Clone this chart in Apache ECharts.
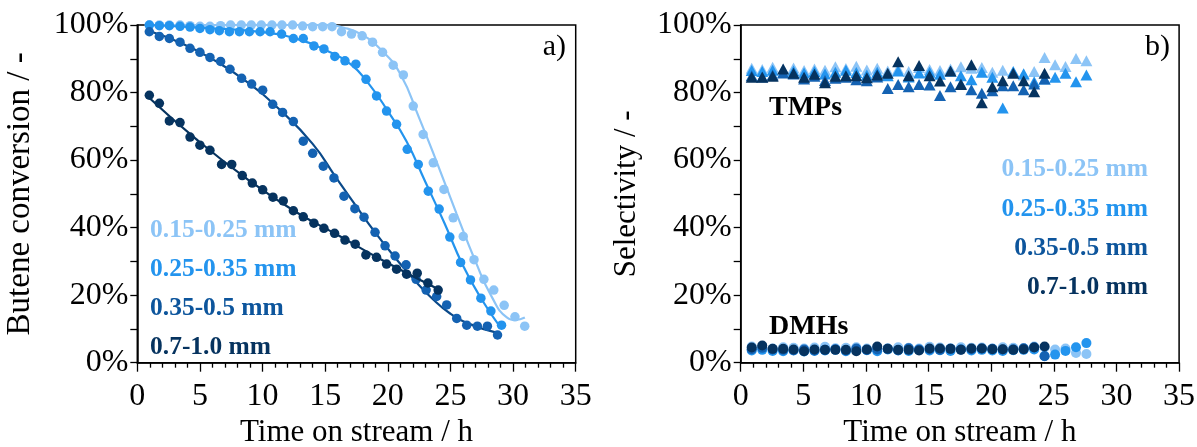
<!DOCTYPE html>
<html>
<head>
<meta charset="utf-8">
<script src="https://cdn.jsdelivr.net/npm/echarts@6/dist/echarts.min.js"></script>
<style>
  html, body { margin: 0; padding: 0; background: #fff; }
  #chart { width: 1197px; height: 447px; }
</style>
</head>
<body>
<div id="chart"></div>
<script>
// Particle size fractions
const sizeLabels = ['0.15-0.25 mm', '0.25-0.35 mm', '0.35-0.5 mm', '0.7-1.0 mm'];

// Butene conversion (%) vs time on stream (h), measured points
const conv015 = [
  [0.96,100],[1.76,100],[2.56,100],[3.41,100],[4.21,99.8],[5.0,99.6],[5.8,99.6],[6.65,99.8],
  [7.45,100],[8.3,100],[9.1,100],[9.9,100],[10.75,100],[11.55,100],[12.4,100],[13.2,99.7],
  [14.0,99.5],[14.8,99.5],[15.55,99.5],[16.3,98.0],[17.1,97.3],[17.95,96.8],[18.78,94.9],
  [19.58,91.9],[20.43,88.1],[21.24,85.2],[22.03,76.0],[22.82,67.6],[23.63,59.2],[24.48,51.3],
  [25.22,42.9],[26.02,37.4],[26.88,30.5],[27.67,24.7],[28.46,21.5],[29.29,17.0],[30.15,13.6],[30.93,10.8]
];
const conv025 = [
  [0.96,100],[1.76,99.8],[2.56,99.8],[3.41,99.6],[4.21,99.4],[5.0,99.0],[5.8,98.6],[6.55,98.3],
  [7.35,98.0],[8.15,98.0],[8.95,98.0],[9.8,98.0],[10.6,98.0],[11.52,97.3],[12.46,96.0],[13.25,96.0],
  [14.1,93.8],[14.9,92.9],[15.77,90.7],[16.58,89.4],[17.45,88.4],[18.26,83.9],[19.1,79.0],[19.9,74.5],
  [20.7,70.6],[21.55,63.2],[22.43,58.7],[23.23,50.8],[24.1,45.5],[24.95,37.2],[25.81,29.7],[26.6,24.5],
  [27.43,19.1],[28.23,15.3],[29.08,11.1]
];
const conv035 = [
  [0.96,98.0],[1.76,96.6],[2.56,96.0],[3.41,94.9],[4.21,93.1],[5.0,91.9],[5.8,90.4],[6.65,89.2],
  [7.4,86.9],[8.33,84.2],[9.13,82.5],[10.01,80.7],[10.81,76.5],[11.6,74.1],[12.46,71.4],[13.25,65.6],
  [14.0,62.0],[14.85,58.2],[15.7,54.7],[16.5,49.3],[17.37,45.6],[18.1,43.1],[18.98,38.6],[19.78,34.6],
  [20.58,31.6],[21.46,29.0],[22.26,24.7],[23.06,21.5],[23.9,19.6],[24.7,17.1],[25.5,13.1],[26.3,11.1],
  [27.15,10.8],[27.95,10.8],[28.76,8.2]
];
const conv07 = [
  [0.96,79.2],[1.76,76.8],[2.56,71.6],[3.41,71.1],[4.21,66.8],[5.0,64.4],[5.8,62.9],[6.73,58.7],
  [7.54,58.7],[8.38,55.4],[9.18,53.2],[10.01,51.2],[10.83,49.0],[11.65,47.9],[12.46,45.0],[13.25,43.2],
  [14.1,41.3],[14.9,39.8],[15.75,38.3],[16.58,36.3],[17.4,35.1],[18.25,31.9],[19.1,31.2],[19.9,29.2],
  [20.7,27.7],[21.5,26.2],[22.35,26.5],[23.2,23.6],[24.02,21.5]
];

// Fitted conversion curves (knots along each fit)
const fit015 = [[0.96,100],[15,100],[16.5,99.2],[18,97],[19.5,92.5],[21,85.5],[22.5,72.5],[24,58.5],
  [25.5,44],[27,30],[28.3,19.5],[29.5,13.4],[30.2,12.7],[30.94,13.4]];
const fit025 = [[0.9,100],[5,99.2],[10,97.9],[13,95.6],[15,92.6],[17,88.5],[18.5,82.5],[20,74.5],
  [21.5,65.5],[23,53.5],[24.5,41.5],[26,28.8],[27.5,18.7],[28.95,10.7]];
const fit035 = [[0.9,98.3],[3.4,94.8],[6,89.9],[8.7,83.3],[11.4,74.8],[14,64.8],[15.8,55.2],[17.5,46.2],
  [19,38.5],[20.5,31.5],[22,25],[23.6,18.8],[25,14.5],[26.5,11.5],[28.68,8.9]];
const fit07 = [[0.9,78.6],[4.7,66.2],[8.7,54.6],[12.5,45],[16,37.8],[19.5,30.5],[24.16,21.5]];

// Selectivity sampling times (h)
const selTime = [0.88,1.72,2.55,3.39,4.22,5.06,5.89,6.73,7.56,8.40,9.23,10.07,10.90,11.74,12.57,13.41,
  14.24,15.08,15.91,16.75,17.58,18.42,19.25,20.09,20.92,21.76,22.59,23.43,24.26,25.10,25.93,26.77,27.60];

// TMP selectivity (%)
const tmp015 = [87.2,86.8,87.5,86.9,87.3,86.5,87.0,86.6,87.6,87.1,87.8,86.7,87.2,86.4,87.0,86.2,87.4,86.8,
  86.5,87.0,87.6,87.2,87.4,86.0,86.6,86.0,85.2,86.2,90.4,88.2,87.7,90.1,89.4];
const tmp025 = [86.5,86.2,86.6,86.0,86.4,85.8,86.2,85.5,86.0,86.6,85.9,85.2,86.0,85.0,86.4,84.6,85.8,86.0,
  85.4,86.3,85.0,83.8,86.0,84.5,75.4,86.2,85.6,83.2,84.0,84.5,85.7,83.2,85.2];
const tmp035 = [85.0,84.6,85.2,85.8,85.5,84.0,84.8,83.6,84.2,84.5,83.8,83.5,84.6,81.2,82.4,81.7,82.4,82.2,
  79.1,81.7,82.5,80.8,79.8,80.5,82.0,82.0,80.8,82.5,84.0];
const tmp07 = [84.5,84.5,84.8,87.0,85.7,84.5,85.4,82.9,84.8,85.0,85.0,84.4,85.2,85.7,89.1,85.0,88.0,85.0,
  83.4,86.4,82.4,88.2,77.0,81.7,83.5,85.7,83.5,80.2,85.7];

// DMH selectivity (%)
const dmh015 = [4.8,4.5,4.2,4.6,4.4,4.2,4.5,4.7,4.3,4.4,4.6,4.2,4.5,4.3,4.6,4.4,4.2,4.7,4.5,4.3,4.6,4.4,
  4.5,4.2,4.6,4.4,4.3,4.8,4.5,3.9,4.2,2.9,2.6];
const dmh025 = [3.6,3.8,3.5,3.4,3.6,3.3,3.5,3.6,3.8,3.4,3.6,3.7,3.4,3.9,3.6,3.5,3.8,3.6,3.7,3.5,3.9,3.6,
  3.8,3.6,3.5,3.7,3.8,3.9,2.0,2.4,3.5,4.6,5.8];
const dmh035 = [4.0,4.4,3.9,3.8,3.7,3.9,3.6,3.8,4.0,3.6,4.2,3.8,3.9,4.1,3.7,4.3,3.9,4.0,3.8,4.1,3.9,4.0,
  4.2,4.1,3.9,4.0,4.3,4.6,1.9];
const dmh07 = [4.5,5.1,4.1,4.1,3.9,3.4,3.9,3.8,3.8,3.8,3.4,3.9,4.8,4.1,3.8,3.8,3.6,4.2,4.2,4.1,3.8,4.2,
  4.2,4.0,4.0,3.8,4.0,4.5,4.8];

// Axis ticks
const xMin = 0, xMax = 35, xStep = 5;
const yMin = 0, yMax = 100, yStep = 20;

const colors = ['#8cc4f6', '#2394ee', '#1462b2', '#06335f'];
const lineColors = ['#8cc4f6', '#2394ee', '#0b4a8a', '#06335f'];
const textColors = ['#8cc4f6', '#2394ee', '#0d559c', '#06335f'];

const FONT = 'Liberation Serif';
const TICK_FONT = 32;
const TITLE_FONT = 31;
const pairs = (vals) => vals.map((v, i) => [selTime[i], v]);

function xAxis(gridIndex) {
  return {
    gridIndex, type: 'value', min: xMin, max: xMax, interval: xStep,
    name: 'Time on stream / h', nameLocation: 'middle', nameGap: 53,
    nameTextStyle: { fontFamily: FONT, fontSize: TITLE_FONT, color: '#000' },
    axisLine: { show: true, onZero: false, lineStyle: { color: '#000', width: 1.5 } },
    axisTick: { show: true, length: 9, lineStyle: { color: '#000', width: 1.3 } },
    minorTick: { show: true, splitNumber: 5, length: 5, lineStyle: { color: '#000', width: 1.3 } },
    axisLabel: { fontFamily: FONT, fontSize: TICK_FONT, color: '#000', margin: 18 },
    splitLine: { show: false }
  };
}
function yAxis(gridIndex, name, gap, titleSize) {
  return {
    gridIndex, type: 'value', min: yMin, max: yMax, interval: yStep,
    name, nameLocation: 'middle', nameGap: gap,
    nameTextStyle: { fontFamily: FONT, fontSize: titleSize, color: '#000' },
    axisLine: { show: true, onZero: false, lineStyle: { color: '#000', width: 1.5 } },
    axisTick: { show: true, length: 7, lineStyle: { color: '#000', width: 1.3 } },
    minorTick: { show: true, splitNumber: 2, length: 7, lineStyle: { color: '#000', width: 1.3 } },
    axisLabel: { fontFamily: FONT, fontSize: TICK_FONT, color: '#000', margin: 9, formatter: v => v + '%' },
    splitLine: { show: false }
  };
}

const convData = [conv015, conv025, conv035, conv07];
const fitData = [fit015, fit025, fit035, fit07];
const tmpData = [tmp015, tmp025, tmp035, tmp07];
const dmhData = [dmh015, dmh025, dmh035, dmh07];

const series = [];
for (let i = 0; i < 4; i++) {
  series.push({
    type: 'scatter', xAxisIndex: 0, yAxisIndex: 0, data: convData[i],
    symbol: 'circle', symbolSize: 9.5, itemStyle: { color: colors[i], opacity: 1 }, z: 2 + i
  });
  series.push({
    type: 'line', xAxisIndex: 0, yAxisIndex: 0, data: fitData[i], smooth: 0.5,
    showSymbol: false, lineStyle: { color: lineColors[i], width: 2.2 }, z: 2 + i
  });
}
for (let i = 0; i < 4; i++) {
  series.push({
    type: 'scatter', xAxisIndex: 1, yAxisIndex: 1, data: pairs(tmpData[i]),
    symbol: 'triangle', symbolSize: [12, 11], itemStyle: { color: colors[i], opacity: 1 }, z: 2 + i
  });
  series.push({
    type: 'scatter', xAxisIndex: 1, yAxisIndex: 1, data: pairs(dmhData[i]),
    symbol: 'circle', symbolSize: 10, itemStyle: { color: colors[i], opacity: 1 }, z: 2 + i
  });
}

const txt = (x, y, text, opts) => ({
  type: 'text', x, y, z: 100,
  style: Object.assign({ text, fontFamily: FONT, fontSize: 25.5, fontWeight: 'bold', fill: '#000',
    verticalAlign: 'middle' }, opts)
});

const graphics = [
  txt(566, 47, 'a)', { fontWeight: 'normal', fontSize: 30, align: 'right' }),
  txt(1170, 47, 'b)', { fontWeight: 'normal', fontSize: 30, align: 'right' }),
  txt(769, 108, 'TMPs', { fontSize: 28 }),
  txt(769, 327, 'DMHs', { fontSize: 28 })
];
const leftY = [230, 269, 308, 347];
const rightY = [169, 209, 248, 287];
for (let i = 0; i < 4; i++) {
  graphics.push(txt(150, leftY[i], sizeLabels[i], { fill: textColors[i] }));
  graphics.push(txt(1148, rightY[i], sizeLabels[i], { fill: textColors[i], align: 'right' }));
}

const gridBase = { top: 25, width: 438.4, height: 337.7, show: true, borderColor: '#000', borderWidth: 1.5,
  containLabel: false, outerBoundsMode: 'none' };

const chart = echarts.init(document.getElementById('chart'));
chart.setOption({
  animation: false,
  backgroundColor: '#fff',
  grid: [
    Object.assign({ left: 137.3 }, gridBase),
    Object.assign({ left: 740.7 }, gridBase)
  ],
  xAxis: [xAxis(0), xAxis(1)],
  yAxis: [yAxis(0, 'Butene conversion / -', 100, 33), yAxis(1, 'Selectivity / -', 98, 31)],
  series,
  graphic: graphics
});
</script>
</body>
</html>
